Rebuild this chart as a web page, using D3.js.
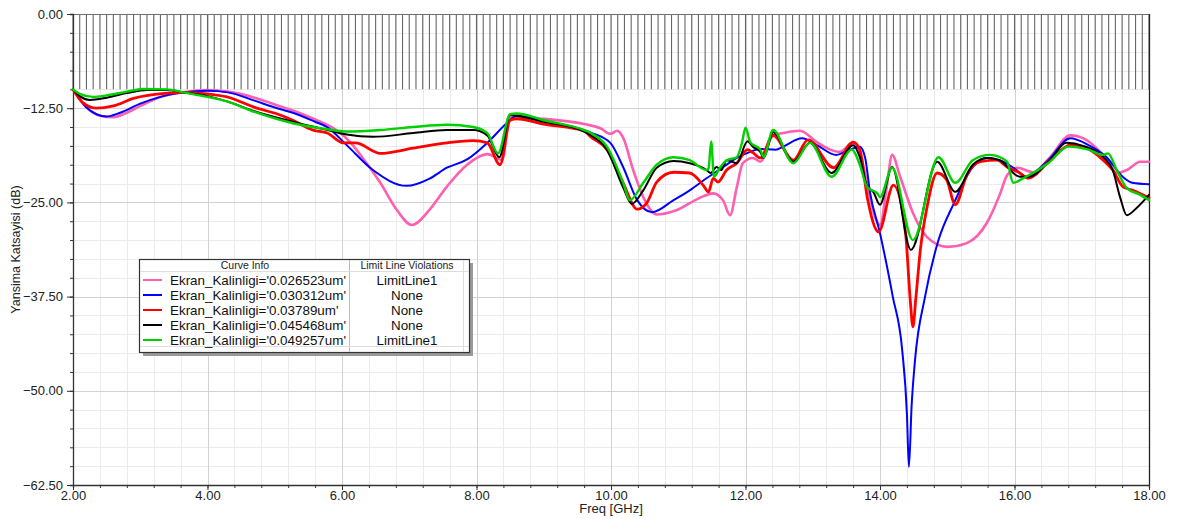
<!DOCTYPE html>
<html>
<head>
<meta charset="utf-8">
<script src="https://cdn.jsdelivr.net/npm/d3@7/dist/d3.min.js"></script>
<style>
  html, body { margin: 0; padding: 0; background: #fff; }
  svg { display: block; font-family: "Liberation Sans", Arial, sans-serif; }
</style>
</head>
<body>
<svg id="chart" width="1183" height="519"></svg>
<script>
// Sweep of reflection coefficient (dB) vs frequency for five screen thicknesses
const seriesNames = [
  "Ekran_Kalinligi='0.026523um'",
  "Ekran_Kalinligi='0.030312um'",
  "Ekran_Kalinligi='0.03789um'",
  "Ekran_Kalinligi='0.045468um'",
  "Ekran_Kalinligi='0.049257um'"
];
const limitViolations = ["LimitLine1", "None", "None", "None", "LimitLine1"];
const limitLineDb = -10;

const xTickLabels = [2, 4, 6, 8, 10, 12, 14, 16, 18];
const yTickLabels = [0, -12.5, -25, -37.5, -50, -62.5];

// [frequency GHz, dB]
const pinkValues = [
  [2.0,-10.0],[2.2,-12.4],[2.4,-13.5],[2.6,-13.7],[2.8,-13.1],[3.0,-12.2],[3.3,-11.0],[3.64,-10.4],
  [4.0,-10.1],[4.3,-10.3],[4.7,-11.1],[5.0,-12.0],[5.3,-12.9],[5.6,-14.0],[5.93,-15.5],[6.1,-16.8],
  [6.3,-19.0],[6.57,-22.4],[6.8,-25.8],[7.04,-28.0],[7.3,-26.0],[7.56,-22.9],[7.86,-20.0],[8.16,-18.6],
  [8.3,-19.1],[8.38,-19.4],[8.5,-13.7],[9.0,-13.9],[9.6,-14.6],[9.85,-15.2],[9.99,-15.9],[10.09,-15.5],
  [10.18,-16.4],[10.33,-20.7],[10.48,-24.3],[10.68,-26.6],[10.98,-26.0],[11.32,-24.4],[11.52,-23.8],
  [11.67,-24.8],[11.77,-26.7],[11.87,-23.0],[11.96,-19.8],[12.11,-19.1],[12.22,-19.6],[12.41,-16.1],
  [12.56,-15.8],[12.81,-15.5],[13.06,-17.0],[13.26,-18.0],[13.4,-18.3],[13.6,-17.1],[13.7,-18.3],
  [13.81,-22.6],[13.93,-27.0],[14.0,-28.0],[14.1,-23.0],[14.18,-18.7],[14.3,-21.6],[14.49,-26.4],
  [14.7,-29.6],[15.0,-30.9],[15.29,-30.4],[15.59,-27.7],[15.78,-24.0],[15.89,-21.4],[16.04,-20.4],
  [16.28,-21.0],[16.53,-19.0],[16.83,-16.1],[17.0,-16.4],[17.38,-19.4],[17.52,-21.1],[17.67,-20.7],
  [17.87,-19.6],[18.0,-19.6]
];
const blueValues = [
  [2.0,-10.0],[2.2,-12.4],[2.35,-13.3],[2.5,-13.6],[2.7,-13.1],[3.0,-11.9],[3.3,-11.0],[3.64,-10.4],
  [4.0,-10.2],[4.3,-10.4],[4.7,-11.5],[5.0,-12.4],[5.27,-13.1],[5.6,-14.3],[5.78,-15.0],[6.07,-17.4],
  [6.46,-20.7],[6.96,-22.8],[7.31,-21.8],[7.56,-20.4],[7.86,-19.3],[8.16,-17.1],[8.45,-14.5],
  [8.6,-13.5],[9.0,-14.2],[9.69,-15.7],[9.99,-17.1],[10.18,-20.3],[10.39,-24.7],[10.61,-26.3],
  [10.93,-24.7],[11.17,-23.4],[11.42,-21.8],[11.67,-20.3],[11.87,-19.1],[12.07,-18.3],[12.21,-17.9],
  [12.45,-18.0],[12.56,-17.6],[12.84,-16.5],[13.06,-17.4],[13.35,-18.7],[13.55,-18.0],[13.7,-17.6],
  [13.78,-19.1],[13.85,-23.6],[14.0,-29.1],[14.19,-37.5],[14.33,-44.6],[14.40,-53.0],[14.43,-60.1],
  [14.47,-52.0],[14.52,-46.0],[14.67,-37.5],[14.87,-30.0],[15.1,-25.1],[15.38,-20.3],[15.59,-19.1],
  [15.83,-19.6],[16.0,-20.5],[16.17,-21.6],[16.5,-19.4],[16.83,-16.5],[17.1,-17.4],[17.37,-19.0],
  [17.61,-21.6],[17.75,-22.4],[18.0,-22.6]
];
const redValues = [
  [2.0,-10.0],[2.15,-11.8],[2.35,-12.5],[2.6,-12.2],[2.9,-11.2],[3.4,-10.5],[3.64,-10.4],[4.0,-10.6],
  [4.29,-11.0],[4.7,-12.4],[5.08,-13.4],[5.27,-14.1],[5.57,-15.4],[5.78,-15.8],[6.02,-17.1],[6.2,-17.1],
  [6.57,-18.5],[7.06,-17.8],[7.56,-17.1],[7.95,-16.8],[8.16,-17.1],[8.35,-20.0],[8.5,-14.1],[8.6,-13.9],
  [9.0,-14.6],[9.6,-15.5],[9.7,-16.3],[9.94,-18.0],[10.18,-22.4],[10.39,-25.9],[10.53,-25.1],
  [10.68,-22.3],[10.93,-21.0],[11.17,-21.1],[11.37,-22.7],[11.45,-23.6],[11.52,-21.8],[11.59,-22.3],
  [11.72,-20.7],[11.87,-19.8],[12.03,-18.0],[12.11,-18.4],[12.22,-19.1],[12.41,-16.1],[12.71,-19.4],
  [12.93,-16.7],[13.31,-20.4],[13.6,-17.0],[13.7,-18.0],[13.81,-24.3],[13.98,-28.9],[14.2,-22.7],
  [14.38,-29.1],[14.45,-38.0],[14.49,-41.5],[14.53,-38.0],[14.6,-31.3],[14.7,-25.6],[14.85,-21.1],
  [14.99,-22.0],[15.12,-25.3],[15.29,-21.4],[15.49,-19.6],[15.74,-19.4],[15.89,-20.3],[16.08,-21.1],
  [16.2,-21.8],[16.53,-19.4],[16.83,-17.4],[17.02,-17.6],[17.32,-19.4],[17.46,-20.7],[17.61,-22.9],
  [17.76,-23.4],[18.0,-24.4]
];
const blackValues = [
  [2.0,-10.0],[2.1,-10.9],[2.25,-11.4],[2.5,-11.1],[2.8,-10.5],[3.1,-10.1],[3.4,-10.1],[3.64,-10.4],
  [4.0,-10.9],[4.29,-11.6],[4.7,-12.9],[5.27,-14.3],[5.78,-15.4],[6.07,-16.0],[6.46,-16.3],[7.06,-15.8],
  [7.56,-15.4],[7.95,-15.4],[8.16,-16.1],[8.34,-19.0],[8.5,-13.4],[8.6,-13.5],[9.0,-14.3],[9.6,-15.6],
  [9.7,-16.1],[9.94,-18.0],[10.18,-23.0],[10.31,-25.2],[10.48,-23.4],[10.68,-20.4],[10.93,-19.5],
  [11.17,-19.8],[11.42,-20.7],[11.48,-21.1],[11.57,-20.3],[11.64,-20.7],[11.72,-19.4],[11.87,-19.8],
  [12.03,-16.9],[12.11,-17.6],[12.22,-18.3],[12.27,-19.1],[12.41,-15.7],[12.71,-19.6],[12.96,-17.1],
  [13.28,-21.1],[13.6,-17.4],[13.7,-19.0],[13.81,-22.9],[13.9,-23.6],[14.0,-25.3],[14.18,-20.3],
  [14.46,-31.3],[14.85,-19.6],[15.12,-23.6],[15.38,-20.0],[15.59,-19.1],[15.78,-19.4],[16.08,-21.6],
  [16.2,-21.6],[16.53,-19.4],[16.77,-17.1],[17.02,-17.5],[17.32,-19.0],[17.46,-20.7],[17.57,-24.3],
  [17.67,-26.7],[17.82,-25.7],[18.0,-24.0]
];
const greenValues = [
  [2.0,-10.0],[2.1,-10.6],[2.3,-11.0],[2.5,-10.8],[2.8,-10.3],[3.04,-9.95],[3.4,-10.0],[3.64,-10.4],
  [4.0,-11.0],[4.29,-11.6],[4.7,-13.0],[5.27,-14.5],[5.78,-15.3],[6.07,-15.6],[6.57,-15.4],[7.06,-15.0],
  [7.56,-14.7],[7.95,-15.0],[8.16,-15.8],[8.32,-18.5],[8.5,-13.3],[8.6,-13.2],[9.0,-14.1],[9.6,-15.4],
  [9.7,-15.8],[9.94,-17.6],[10.18,-22.4],[10.28,-24.7],[10.48,-22.4],[10.68,-20.0],[10.93,-19.0],
  [11.17,-19.4],[11.42,-20.7],[11.45,-20.5],[11.49,-16.9],[11.53,-21.6],[11.62,-20.4],[11.72,-19.4],
  [11.87,-19.0],[11.95,-17.0],[12.0,-15.1],[12.07,-17.0],[12.22,-18.0],[12.27,-19.0],[12.41,-15.4],
  [12.71,-19.8],[12.96,-17.1],[13.28,-21.6],[13.58,-18.0],[13.7,-20.0],[13.81,-23.0],[13.96,-23.8],
  [14.0,-24.3],[14.18,-20.4],[14.49,-30.0],[14.87,-19.0],[15.12,-22.4],[15.38,-19.4],[15.64,-18.7],
  [15.89,-19.6],[15.98,-22.4],[16.13,-21.8],[16.5,-19.8],[16.8,-17.6],[17.1,-18.0],[17.32,-18.7],
  [17.39,-18.5],[17.52,-20.7],[17.67,-23.1],[17.87,-24.0],[18.0,-24.7]
];

const seriesValues = [pinkValues, blueValues, redValues, blackValues, greenValues];
const seriesColors = ["#ff5fb0", "#0000ff", "#ff0000", "#000000", "#00d000"];
const seriesWidths = [2.6, 2, 2.8, 2, 2.4];

const svg = d3.select("#chart");
const plot = { left: 73, right: 1149, top: 14, bottom: 485 };

const x = d3.scaleLinear().domain([2, 18]).range([plot.left, plot.right]);
const y = d3.scaleLinear().domain([0, -62.5]).range([plot.top, plot.bottom]);

const minorX = d3.range(2, 18.0001, 0.4);
const minorY = d3.range(0, -62.5001, -2.5);

// grid: minor then major
const grid = svg.append("g");
grid.selectAll(".gx").data(minorX).enter().append("line")
  .attr("x1", d => Math.round(x(d)) + 0.5).attr("x2", d => Math.round(x(d)) + 0.5)
  .attr("y1", plot.top).attr("y2", plot.bottom)
  .attr("stroke", "#ebebeb").attr("stroke-width", 1);
grid.selectAll(".gy").data(minorY).enter().append("line")
  .attr("y1", d => Math.round(y(d)) + 0.5).attr("y2", d => Math.round(y(d)) + 0.5)
  .attr("x1", plot.left).attr("x2", plot.right)
  .attr("stroke", "#ebebeb").attr("stroke-width", 1);
grid.selectAll(".gX").data(xTickLabels).enter().append("line")
  .attr("x1", d => Math.round(x(d)) + 0.5).attr("x2", d => Math.round(x(d)) + 0.5)
  .attr("y1", plot.top).attr("y2", plot.bottom)
  .attr("stroke", "#d2d2d2").attr("stroke-width", 1);
grid.selectAll(".gY").data(yTickLabels).enter().append("line")
  .attr("y1", d => Math.round(y(d)) + 0.5).attr("y2", d => Math.round(y(d)) + 0.5)
  .attr("x1", plot.left).attr("x2", plot.right)
  .attr("stroke", "#d2d2d2").attr("stroke-width", 1);

// limit line hatching between 0 dB and the limit
const hatchFreqs = d3.range(2, 18.0001, 0.1);
const hatch = svg.append("g");
hatch.selectAll("line").data(hatchFreqs).enter().append("line")
  .attr("x1", d => x(d)).attr("x2", d => x(d))
  .attr("y1", y(0)).attr("y2", y(limitLineDb))
  .attr("stroke", "#666").attr("stroke-width", 1.1);
hatch.append("line")
  .attr("x1", plot.left).attr("x2", plot.right)
  .attr("y1", y(0) + 0.5).attr("y2", y(0) + 0.5)
  .attr("stroke", "#707070").attr("stroke-width", 1);

// axes
const axisColor = "#333";
const xAxisMinor = d3.axisBottom(x).tickValues(minorX).tickSize(3).tickFormat("");
const xAxisMajor = d3.axisBottom(x).tickValues(xTickLabels).tickSize(5)
  .tickFormat(d3.format(".2f"));
const yAxisMinor = d3.axisLeft(y).tickValues(minorY).tickSize(3).tickFormat("");
const yAxisMajor = d3.axisLeft(y).tickValues(yTickLabels).tickSize(6)
  .tickFormat(d3.format(".2f"));

function styleAxis(g) {
  g.selectAll("path").attr("stroke", axisColor).attr("stroke-width", 1.3);
  g.selectAll("line").attr("stroke", axisColor);
  g.selectAll("text").attr("fill", "#222").style("font-size", "13px")
    .style("font-family", "'Liberation Sans', Arial, sans-serif");
}

svg.append("g").attr("transform", `translate(0,${plot.bottom})`).call(xAxisMinor).call(styleAxis);
const gx = svg.append("g").attr("transform", `translate(0,${plot.bottom})`).call(xAxisMajor).call(styleAxis);
gx.selectAll("text").attr("y", 6).attr("dy", "0.71em");
gx.select("path").remove();

svg.append("g").attr("transform", `translate(${plot.left},0)`).call(yAxisMinor).call(styleAxis);
const gy = svg.append("g").attr("transform", `translate(${plot.left},0)`).call(yAxisMajor).call(styleAxis);
gy.selectAll("text").attr("x", -10);
gy.select("path").remove();

// right border
svg.append("line")
  .attr("x1", plot.right + 0.5).attr("x2", plot.right + 0.5)
  .attr("y1", plot.top).attr("y2", plot.bottom)
  .attr("stroke", "#222").attr("stroke-width", 1.3);

// axis titles
svg.append("text")
  .attr("x", (plot.left + plot.right) / 2).attr("y", 513)
  .attr("text-anchor", "middle").style("font-size", "13px").attr("fill", "#222")
  .text("Freq [GHz]");
svg.append("text")
  .attr("transform", `translate(20,${(plot.top + plot.bottom) / 2}) rotate(-90)`)
  .attr("text-anchor", "middle").style("font-size", "12.5px").attr("fill", "#222")
  .text("Yansima Katsayisi (dB)");

// curves
const line = d3.line()
  .x(d => x(d[0])).y(d => y(d[1]))
  .curve(d3.curveMonotoneX);

const curves = svg.append("g");
seriesValues.forEach((vals, i) => {
  curves.append("path")
    .datum(vals)
    .attr("fill", "none")
    .attr("stroke", seriesColors[i])
    .attr("stroke-width", seriesWidths[i])
    .attr("stroke-linejoin", "round")
    .attr("stroke-linecap", "round")
    .attr("d", line);
});

// legend table
const lg = { x: 139, y: 259, w: 330, h: 93, col: 349, headerH: 12, rowH: 15 };
const legend = svg.append("g");
legend.append("rect")
  .attr("x", lg.x + 4).attr("y", lg.y + 4).attr("width", lg.w).attr("height", lg.h)
  .attr("fill", "#9a9a9a");
legend.append("rect")
  .attr("x", lg.x + 0.5).attr("y", lg.y + 0.5).attr("width", lg.w).attr("height", lg.h)
  .attr("fill", "#fff").attr("stroke", "#333").attr("stroke-width", 1.2);
legend.append("line")
  .attr("x1", lg.col + 0.5).attr("x2", lg.col + 0.5)
  .attr("y1", lg.y + 1).attr("y2", lg.y + lg.h)
  .attr("stroke", "#bbb");
legend.append("line")
  .attr("x1", lg.x + 1).attr("x2", lg.x + lg.w)
  .attr("y1", lg.y + lg.headerH + 0.5).attr("y2", lg.y + lg.headerH + 0.5)
  .attr("stroke", "#ddd");
legend.append("line")
  .attr("x1", lg.x + 1).attr("x2", lg.x + lg.w)
  .attr("y1", lg.y + lg.h - 5.5).attr("y2", lg.y + lg.h - 5.5)
  .attr("stroke", "#ddd");
legend.append("line")
  .attr("x1", lg.x + lg.w - 5.5).attr("x2", lg.x + lg.w - 5.5)
  .attr("y1", lg.y + 1).attr("y2", lg.y + lg.h)
  .attr("stroke", "#ddd");

legend.append("text")
  .attr("x", 245).attr("y", lg.y + 9.5)
  .attr("text-anchor", "middle").style("font-size", "10.5px").attr("fill", "#222")
  .text("Curve Info");
legend.append("text")
  .attr("x", 407).attr("y", lg.y + 9.5)
  .attr("text-anchor", "middle").style("font-size", "10.5px").attr("fill", "#222")
  .text("Limit Line Violations");

const rows = legend.selectAll(".row").data(seriesNames).enter().append("g")
  .attr("transform", (d, i) => `translate(0,${lg.y + 21 + i * lg.rowH})`);
rows.append("line")
  .attr("x1", 143).attr("x2", 162).attr("y1", 0).attr("y2", 0)
  .attr("stroke", (d, i) => seriesColors[i]).attr("stroke-width", 2);
rows.append("text")
  .attr("x", 170).attr("y", 0).attr("dy", "0.35em")
  .style("font-size", "13.4px").attr("fill", "#111")
  .text(d => d);
rows.append("text")
  .attr("x", 407).attr("y", 0).attr("dy", "0.35em")
  .attr("text-anchor", "middle").style("font-size", "13.4px").attr("fill", "#111")
  .text((d, i) => limitViolations[i]);
</script>
</body>
</html>
